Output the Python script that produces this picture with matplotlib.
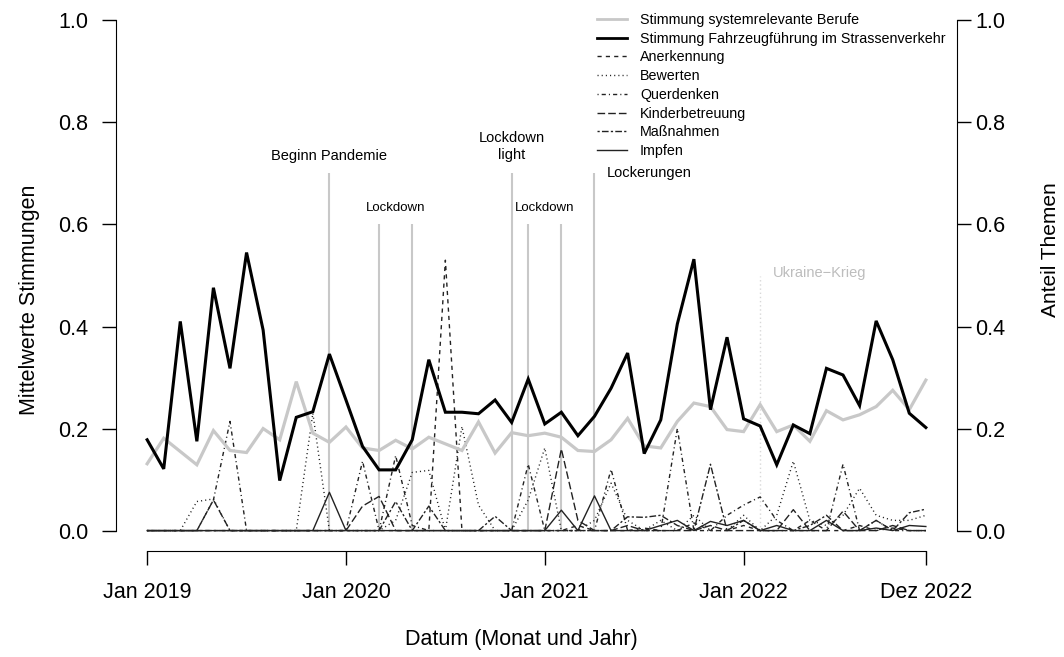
import matplotlib
matplotlib.use('Agg')
import matplotlib.pyplot as plt
from matplotlib.lines import Line2D

plt.rcParams['font.family'] = ['Liberation Sans', 'DejaVu Sans']

# monthly index 0 = Jan 2019 ... 47 = Dez 2022
months = list(range(48))
tick_pos = [0, 12, 24, 36, 47]
tick_labels = ['Jan 2019', 'Jan 2020', 'Jan 2021', 'Jan 2022', 'Dez 2022']

# mean sentiment values (left axis)
stimmung_system = [0.131, 0.181, 0.155, 0.129, 0.196, 0.157, 0.153, 0.200, 0.178, 0.292, 0.191, 0.173,
                   0.203, 0.162, 0.157, 0.177, 0.160, 0.183, 0.170, 0.157, 0.213, 0.152, 0.192, 0.186,
                   0.191, 0.183, 0.157, 0.155, 0.178, 0.220, 0.166, 0.162, 0.214, 0.250, 0.243, 0.198,
                   0.194, 0.247, 0.194, 0.207, 0.175, 0.235, 0.217, 0.227, 0.243, 0.275, 0.237, 0.295]
stimmung_fahrzeug = [0.178, 0.121, 0.410, 0.175, 0.476, 0.318, 0.545, 0.393, 0.098, 0.222, 0.233, 0.346,
                     0.256, 0.165, 0.119, 0.119, 0.178, 0.335, 0.232, 0.232, 0.229, 0.256, 0.212, 0.297,
                     0.209, 0.232, 0.186, 0.224, 0.279, 0.348, 0.151, 0.217, 0.405, 0.532, 0.237, 0.379,
                     0.219, 0.205, 0.129, 0.207, 0.190, 0.318, 0.305, 0.245, 0.411, 0.335, 0.230, 0.202]

# topic shares (right axis)
anerkennung = [0, 0, 0, 0, 0, 0, 0, 0, 0, 0, 0, 0,
               0, 0, 0, 0, 0, 0, 0.53, 0, 0, 0, 0, 0,
               0, 0, 0.01, 0, 0, 0, 0.005, 0, 0, 0.015, 0, 0,
               0.01, 0, 0, 0, 0.02, 0, 0, 0.01, 0, 0.005, 0, 0]
bewerten = [0, 0, 0, 0.057, 0.062, 0, 0, 0, 0, 0, 0.23, 0,
            0, 0, 0, 0.02, 0.114, 0.118, 0, 0.204, 0.05, 0, 0, 0.06,
            0.162, 0, 0, 0.02, 0.093, 0.02, 0, 0.02, 0, 0.03, 0, 0,
            0.03, 0, 0.03, 0.136, 0.02, 0.01, 0.03, 0.083, 0.03, 0.02, 0.02, 0.03]
querdenken = [0, 0, 0, 0, 0.06, 0.214, 0, 0, 0, 0, 0, 0,
              0, 0.136, 0, 0.147, 0.01, 0, 0, 0, 0, 0, 0, 0.13,
              0, 0, 0, 0, 0.12, 0, 0, 0, 0.2, 0, 0, 0.03,
              0.05, 0.066, 0.02, 0, 0, 0, 0.13, 0, 0.02, 0, 0, 0]
kinderbetreuung = [0, 0, 0, 0, 0.06, 0, 0, 0, 0, 0, 0, 0,
                   0, 0.048, 0.067, 0, 0, 0, 0, 0, 0, 0, 0, 0,
                   0, 0.16, 0.02, 0, 0, 0.01, 0, 0, 0, 0, 0.01, 0,
                   0, 0, 0, 0.041, 0, 0, 0.038, 0, 0, 0.01, 0, 0]
massnahmen = [0, 0, 0, 0, 0, 0, 0, 0, 0, 0, 0, 0,
              0, 0, 0, 0.057, 0, 0.048, 0, 0, 0, 0.028, 0, 0,
              0, 0, 0, 0, 0, 0.027, 0.026, 0.03, 0.01, 0, 0.13, 0,
              0.02, 0, 0, 0, 0.01, 0.03, 0, 0, 0.02, 0, 0.035, 0.042]
impfen = [0, 0, 0, 0, 0, 0, 0, 0, 0, 0, 0, 0.075,
          0, 0, 0, 0, 0, 0, 0, 0, 0, 0, 0, 0,
          0, 0.04, 0, 0.068, 0, 0, 0, 0.01, 0.02, 0, 0.018, 0.01,
          0.02, 0, 0.01, 0, 0, 0.02, 0, 0, 0.005, 0, 0.01, 0.008]

# events: month index and height of the marker line
event_pos = [11, 14, 16, 22, 23, 25, 27]
event_top = [0.70, 0.60, 0.60, 0.70, 0.60, 0.60, 0.70]
ukraine_pos = 37

GREY = '#c8c8c8'
TOPIC = '#222222'

fig = plt.figure(figsize=(10.64, 6.57), dpi=100)
ax = fig.add_axes([116 / 1064, 106 / 657, (957 - 116) / 1064, 551 / 657])
ax.set_xlim(-1.88, 48.88)
ax.set_ylim(-0.04, 1.04)

# event lines
ax.vlines(event_pos, 0, event_top, color=GREY, lw=1.5, zorder=1)
ax.vlines(ukraine_pos, 0, 0.5, color='#d8d8d8', lw=1, linestyles=(0, (1, 2)), zorder=1)

ax.text(11, 0.735, 'Beginn Pandemie', ha='center', va='center', fontsize=10.5)
ax.text(15, 0.633, 'Lockdown', ha='center', va='center', fontsize=9.5)
ax.text(22, 0.753, 'Lockdown\nlight', ha='center', va='center', fontsize=10.5, linespacing=1.25)
ax.text(24, 0.633, 'Lockdown', ha='center', va='center', fontsize=9.5)
ax.annotate('Lockerungen', xy=(27, 0.70), xytext=(9, 0), textcoords='offset points',
            ha='left', va='center', fontsize=10.5)
ax.annotate('Ukraine\u2212Krieg', xy=(ukraine_pos, 0.505), xytext=(9, 0), textcoords='offset points',
            ha='left', va='center', fontsize=10.5, color='#bdbdbd')

# topic lines
topic_styles = [
    (anerkennung, 'Anerkennung', (0, (3, 3))),
    (bewerten, 'Bewerten', (0, (0.8, 2.2))),
    (querdenken, 'Querdenken', (0, (0.8, 2.2, 3, 2.2))),
    (kinderbetreuung, 'Kinderbetreuung', (0, (5.5, 2.2))),
    (massnahmen, 'Maßnahmen', (0, (1.6, 1.6, 4.8, 1.6))),
    (impfen, 'Impfen', '-'),
]
for vals, name, ls in topic_styles:
    ax.plot(months, vals, color=TOPIC, lw=1.0, ls=ls, zorder=2)

ax.plot(months, stimmung_system, color=GREY, lw=2.3, zorder=3, solid_joinstyle='miter')
ax.plot(months, stimmung_fahrzeug, color='black', lw=2.2, zorder=4, solid_joinstyle='miter')

# axes styling (R-like)
for s in ['top', 'right']:
    ax.spines[s].set_visible(False)
ax.spines['left'].set_bounds(0, 1)
ax.spines['bottom'].set_bounds(0, 47)
ax.set_yticks([0, 0.2, 0.4, 0.6, 0.8, 1.0])
ax.set_yticklabels(['0.0', '0.2', '0.4', '0.6', '0.8', '1.0'])
ax.set_xticks(tick_pos)
ax.set_xticklabels(tick_labels)
ax.tick_params(axis='both', length=10, width=1, labelsize=15.5)
ax.tick_params(axis='y', pad=10)
ax.tick_params(axis='x', pad=12)

ax2 = ax.twinx()
ax2.set_ylim(-0.04, 1.04)
for s in ['top', 'left', 'bottom']:
    ax2.spines[s].set_visible(False)
ax2.spines['right'].set_bounds(0, 1)
ax2.set_yticks([0, 0.2, 0.4, 0.6, 0.8, 1.0])
ax2.set_yticklabels(['0.0', '0.2', '0.4', '0.6', '0.8', '1.0'])
ax2.tick_params(axis='y', length=10, width=1, labelsize=15.5, pad=3)

fig.text(30 / 1064, 1 - 300 / 657, 'Mittelwerte Stimmungen', rotation=90, ha='center', va='center', fontsize=15.5)
fig.text(1050 / 1064, 1 - 250 / 657, 'Anteil Themen', rotation=90, ha='center', va='center', fontsize=15)
fig.text(521 / 1064, 1 - 640 / 657, 'Datum (Monat und Jahr)', ha='center', va='center', fontsize=15.5)

# legend
handles = [Line2D([], [], color=GREY, lw=2.0),
           Line2D([], [], color='black', lw=2.0)]
labels = ['Stimmung systemrelevante Berufe', 'Stimmung Fahrzeugführung im Strassenverkehr']
for vals, name, ls in topic_styles:
    handles.append(Line2D([], [], color=TOPIC, lw=1.0, ls=ls))
    labels.append(name)
fig.legend(handles, labels, loc='upper left', bbox_to_anchor=(597 / 1064, 1 - 13 / 657),
           frameon=False, fontsize=10.3, handlelength=2.1, handletextpad=0.9,
           labelspacing=0.33, borderpad=0, borderaxespad=0)

fig.savefig('out.png', dpi=100)
